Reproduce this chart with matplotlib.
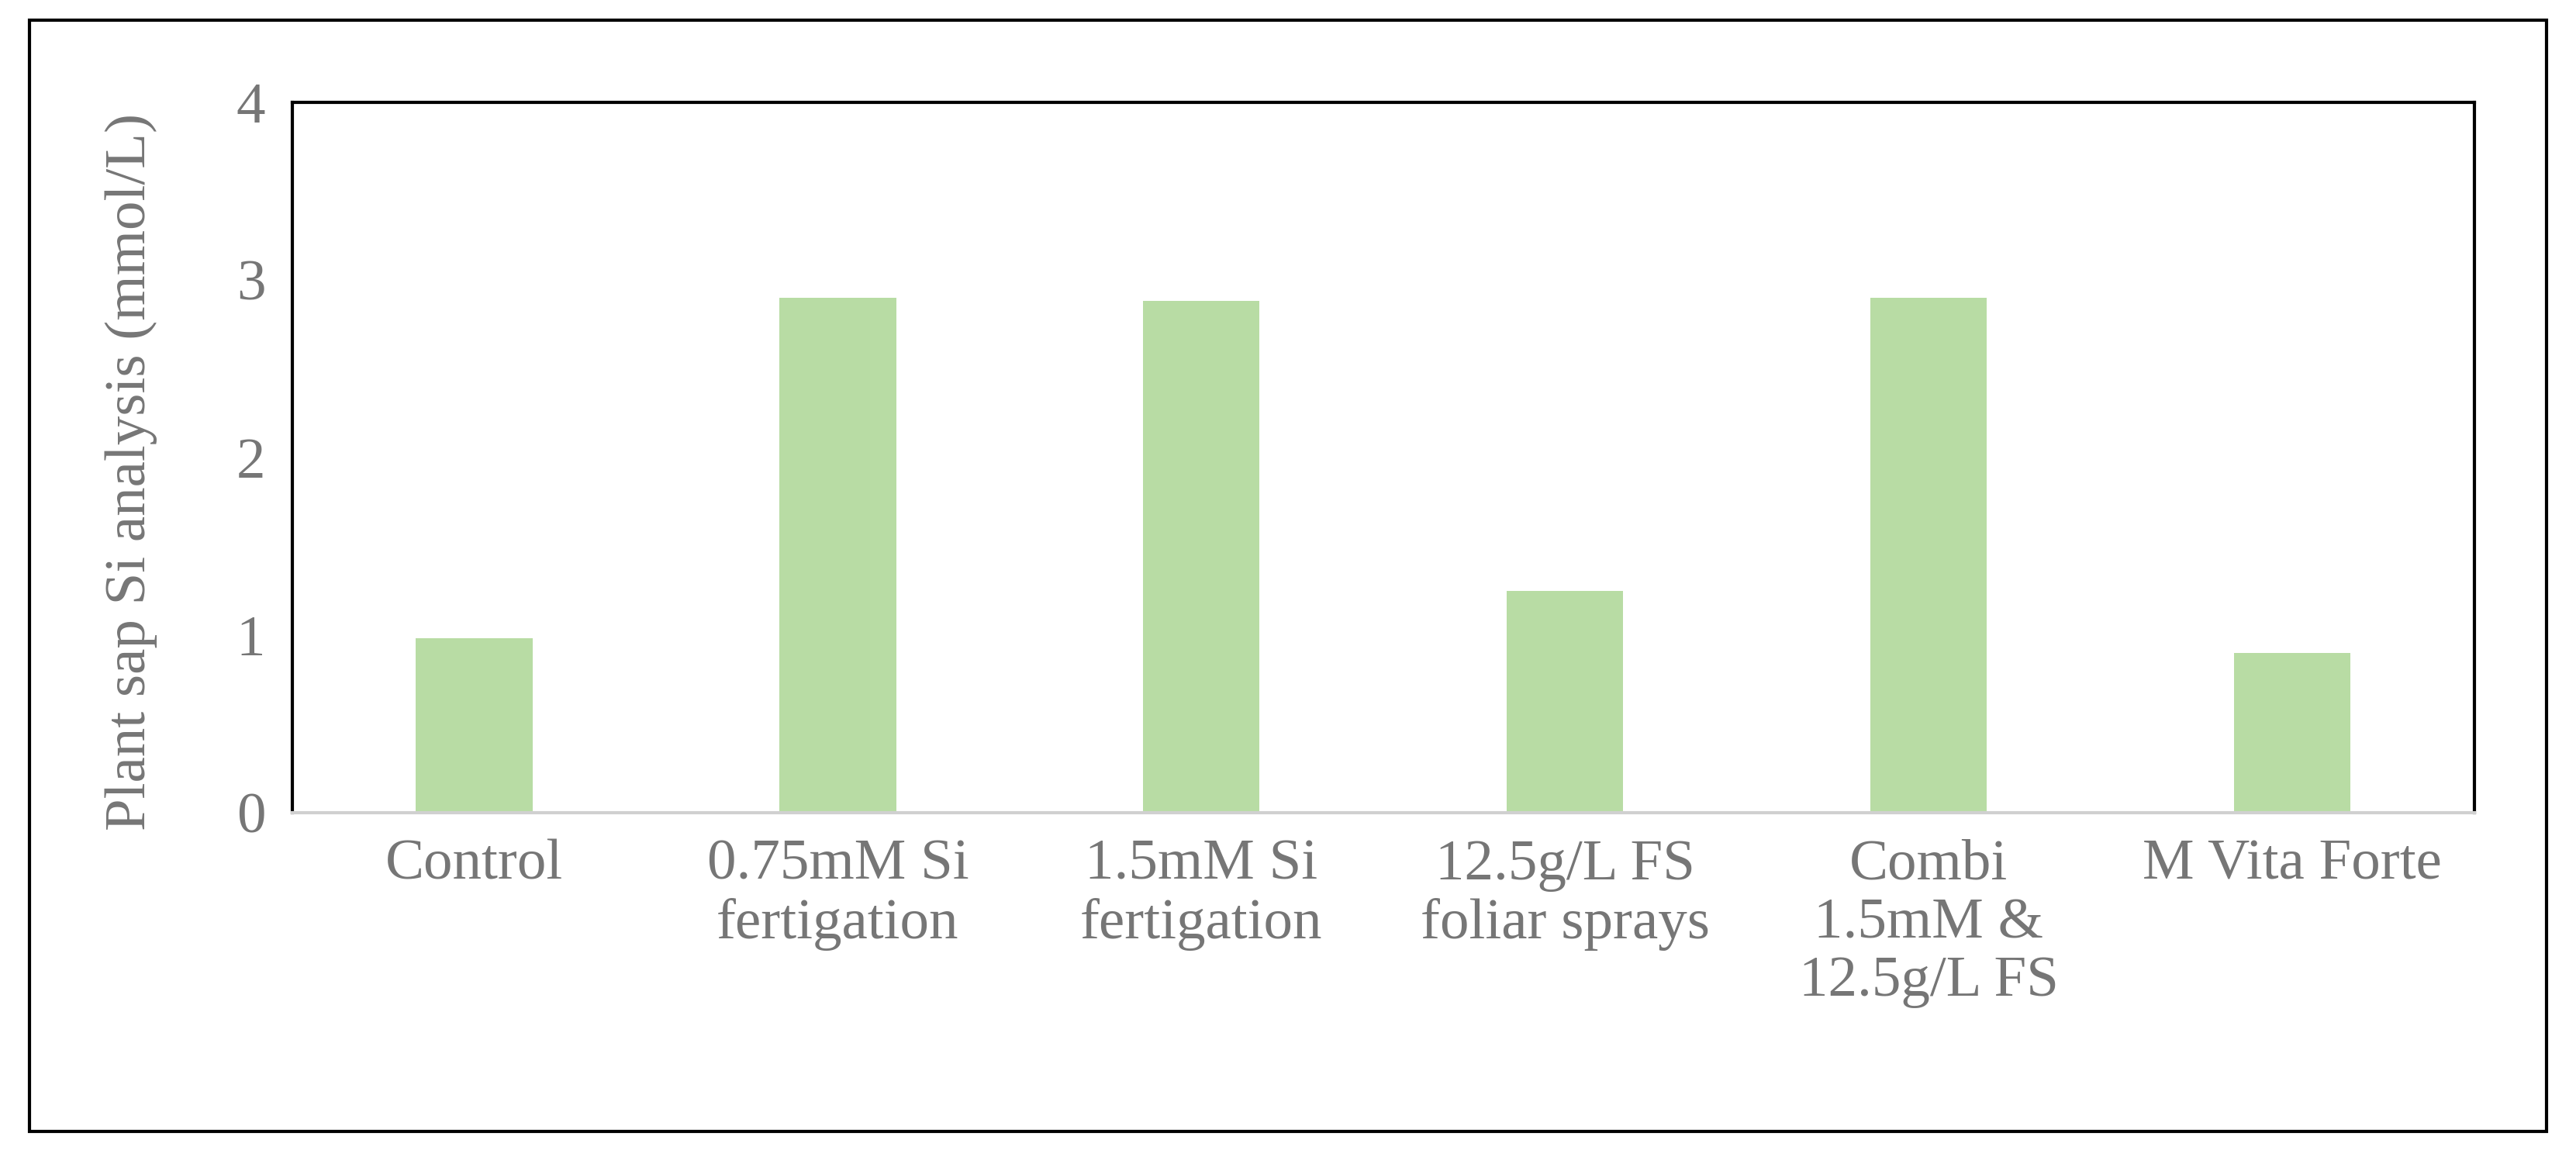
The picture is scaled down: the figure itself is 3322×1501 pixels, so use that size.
import matplotlib
matplotlib.use("Agg")
import matplotlib.pyplot as plt
from matplotlib.patches import Rectangle

categories = ["Control", "0.75mM Si\nfertigation", "1.5mM Si\nfertigation",
              "12.5g/L FS\nfoliar sprays", "Combi\n1.5mM &\n12.5g/L FS", "M Vita Forte"]
values = [0.98, 2.90, 2.88, 1.25, 2.90, 0.90]
yticks = [0, 1, 2, 3, 4]

plt.rcParams['font.family'] = ['Liberation Serif', 'DejaVu Serif']
gray = '#767676'
fig = plt.figure(figsize=(33.22, 15.01), dpi=100)
ax = fig.add_axes([0.1135, 0.302, 0.847, 0.61])
x = range(len(categories))
ax.bar(x, values, width=0.32, color='#b8dca4')
ax.set_xlim(-0.5, len(categories) - 0.5)
ax.set_ylim(0, 4)
ax.set_yticks(yticks)
ax.set_xticks(list(x))
ax.set_xticklabels(categories, fontsize=54, color=gray, linespacing=1.15)
ax.tick_params(axis='y', labelsize=54, labelcolor=gray, length=0, pad=25)
ax.tick_params(axis='x', length=0, pad=25)
for s in ['top', 'left', 'right']:
    ax.spines[s].set_color('black')
    ax.spines[s].set_linewidth(3)
ax.spines['bottom'].set_color('#d0d0d0')
ax.spines['bottom'].set_linewidth(3)
ax.set_ylabel("Plant sap Si analysis (mmol/L)", fontsize=54, color=gray)
ax.yaxis.set_label_coords(-0.062, 0.48)
fig.patches.append(Rectangle((0.0115, 0.028), 0.977, 0.955, transform=fig.transFigure,
                             fill=False, edgecolor='black', linewidth=3))
fig.savefig("out.png", dpi=100)
